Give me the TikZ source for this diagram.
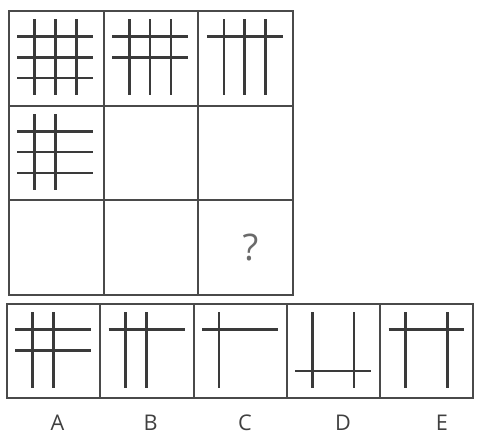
\documentclass[tikz,border=0pt]{standalone}
\usepackage{fontspec}
\setsansfont{Open Sans}
\definecolor{inkgray}{HTML}{3A3A3A}
\definecolor{framegray}{HTML}{4A4A4A}
\definecolor{markgray}{HTML}{6A6A6A}
\usetikzlibrary{positioning}
\tikzset{
    cellbox/.style={
        draw=framegray,
        line width=1.2pt,
        minimum width=2cm,
        minimum height=2cm,
        inner sep=0pt
    },
    optionbox/.style={
        cellbox,
        minimum width=1.97cm,
        minimum height=1.98cm
    },
    figline/.style={
        draw=inkgray,
        line width=1.6pt
    },
    optionlabel/.style={
        font=\sffamily\fontsize{13}{15}\selectfont,
        text=black!75
    },
    questionmark/.style={
        font=\sffamily\fontsize{22}{26}\selectfont,
        text=markgray
    }
}
\newcommand{\vstroke}[1]{\draw[figline] (#1,-0.1) -- (#1,-0.9);}
\newcommand{\hstroke}[1]{\draw[figline] (0.1,#1) -- (0.9,#1);}

\begin{document}
\begin{tikzpicture}[x=2cm,y=2cm]
        \useasboundingbox (0,0) rectangle (5.048,-4.615);

        % matrix
        \node[cellbox] (c11) at (0.595,-0.616) {};
        \node[cellbox] (c12) at (1.595,-0.616) {};
        \node[cellbox] (c13) at (2.595,-0.616) {};
        \node[cellbox] (c21) at (0.595,-1.616) {};
        \node[cellbox] (c22) at (1.595,-1.616) {};
        \node[cellbox] (c23) at (2.595,-1.616) {};
        \node[cellbox] (c31) at (0.595,-2.616) {};
        \node[cellbox] (c32) at (1.595,-2.616) {};
        \node[cellbox] (c33) at (2.595,-2.616) {};

        \begin{scope}[shift={(c11.north west)}]
            \vstroke{0.28} \vstroke{0.5} \vstroke{0.72}
            \hstroke{-0.28} \hstroke{-0.5} \hstroke{-0.72}
        \end{scope}
        \begin{scope}[shift={(c12.north west)}]
            \vstroke{0.28} \vstroke{0.5} \vstroke{0.72}
            \hstroke{-0.28} \hstroke{-0.5}
        \end{scope}
        \begin{scope}[shift={(c13.north west)}]
            \vstroke{0.28} \vstroke{0.5} \vstroke{0.72}
            \hstroke{-0.28}
        \end{scope}
        \begin{scope}[shift={(c21.north west)}]
            \vstroke{0.28} \vstroke{0.5}
            \hstroke{-0.28} \hstroke{-0.5} \hstroke{-0.72}
        \end{scope}

        \node[questionmark] (missing) at ([xshift=0.1cm]c33.center) {?};

        % options
        \node[optionbox] (optA) at (0.5665,-3.705) {};
        \node[optionbox] (optB) at (1.5515,-3.705) {};
        \node[optionbox] (optC) at (2.5365,-3.705) {};
        \node[optionbox] (optD) at (3.5215,-3.705) {};
        \node[optionbox] (optE) at (4.5065,-3.705) {};

        \begin{scope}[shift={(optA.north west)}]
            \vstroke{0.28} \vstroke{0.5}
            \hstroke{-0.28} \hstroke{-0.5}
        \end{scope}
        \begin{scope}[shift={(optB.north west)}]
            \vstroke{0.28} \vstroke{0.5}
            \hstroke{-0.28}
        \end{scope}
        \begin{scope}[shift={(optC.north west)}]
            \vstroke{0.28}
            \hstroke{-0.28}
        \end{scope}
        \begin{scope}[shift={(optD.north west)}]
            \vstroke{0.28} \vstroke{0.72}
            \hstroke{-0.72}
        \end{scope}
        \begin{scope}[shift={(optE.north west)}]
            \vstroke{0.28} \vstroke{0.72}
            \hstroke{-0.28}
        \end{scope}

        \node[optionlabel] (labA) at ([xshift=0.08cm,yshift=-0.51cm]optA.south) {A};
        \node[optionlabel] (labB) at ([xshift=0.08cm,yshift=-0.51cm]optB.south) {B};
        \node[optionlabel] (labC) at ([xshift=0.1cm,yshift=-0.51cm]optC.south) {C};
        \node[optionlabel] (labD) at ([xshift=0.2cm,yshift=-0.51cm]optD.south) {D};
        \node[optionlabel] (labE) at ([xshift=0.32cm,yshift=-0.51cm]optE.south) {E};
    \end{tikzpicture}
\end{document}
